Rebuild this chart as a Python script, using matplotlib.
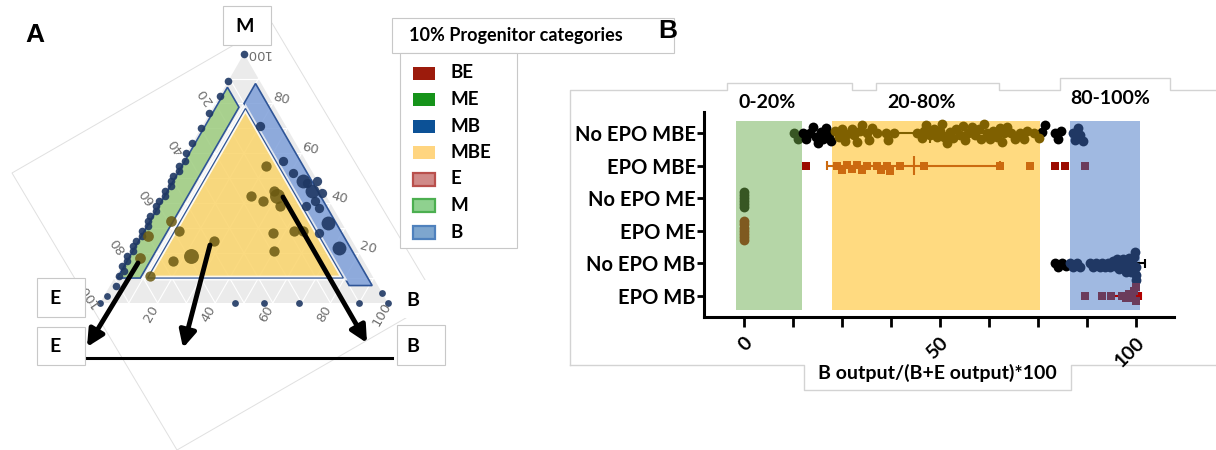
import numpy as np
import matplotlib
matplotlib.use('Agg')
import matplotlib.pyplot as plt
from matplotlib.patches import Polygon, Rectangle

plt.rcParams['font.family'] = ['Lato', 'DejaVu Sans']

# ---------------- panel A : ternary points, (B %, M %), E = 100 - B - M
edge_b = [0, 0, 0, 0, 0, 0, 0, 1, 0, 1, 0, 0, 1, 0, 1, 0, 0, 1, 0, 0, 1, 0, 1, 0, 0, 1, 0, 1, 0, 2, 1, 2]
edge_m = [100, 89, 83, 76, 70, 64, 60, 57, 55, 53, 51, 49, 47, 45, 43, 41, 39, 37, 35, 33, 31, 29, 27, 25, 23, 21, 19, 17, 15, 13, 11, 7]
base_b = [0, 1, 47, 57, 69, 90, 96, 100]
base_m = [0, 3, 0, 0, 0, 0, 4, 0]
side_b = [20, 35, 41, 48, 51, 55, 52, 57, 62, 54]
side_m = [71, 57, 52, 48, 49, 44, 39, 38, 28, 41]
side_big_b = [46, 51, 63, 72]
side_big_m = [49, 45, 32, 22]
mbe_b = [30, 31, 36, 38, 43, 46, 50, 53, 56, 13, 17, 27, 12]
mbe_m = [55, 43, 41, 45, 39, 28, 21, 29, 29, 29, 17, 25, 11]
mbe_big_b = [40, 22]
mbe_big_m = [43, 19]
me_b = [5, 3, 8]
me_m = [18, 27, 33]
tern_ticks = [20, 40, 60, 80, 100]

legend_names = ['BE', 'ME', 'MB', 'MBE', 'E', 'M', 'B']

# ---------------- panel B : B output / (B+E output) * 100
rows = ['No EPO MBE', 'EPO MBE', 'No EPO ME', 'EPO ME', 'No EPO MB', 'EPO MB']
zone_names = ['0-20%', '20-80%', '80-100%']
zone_lo = [-2.0, 22.6, 83.2]
zone_hi = [14.8, 75.5, 101.0]

noepo_mbe_me = [12.9, 13.7]
noepo_mbe_none = [15.0, 15.9, 16.8, 17.6, 18.3, 19.0, 19.6, 20.3, 21.0, 21.7, 22.3,
                  76.2, 76.9, 79.3, 80.1, 81.0]
noepo_mbe_mbe = [23.3, 24.2, 25.0, 25.7, 26.3, 27.5, 28.1, 28.8, 29.6, 30.1, 31.4, 32.0,
                 32.6, 33.9, 36.3, 36.9, 38.2, 44.1, 45.4, 46.0, 46.6, 47.5, 48.4, 49.2,
                 50.1, 50.5, 51.2, 51.8, 52.6, 53.5, 54.2, 55.2, 55.8, 56.5, 57.3, 58.2,
                 59.0, 59.9, 60.5, 61.2, 62.0, 62.9, 63.7, 64.6, 65.3, 65.9, 66.5, 67.2,
                 68.3, 69.3, 70.6, 71.5, 72.3, 74.0, 75.3]
noepo_mbe_mb = [83.9, 84.6, 85.2, 85.9, 86.5]
epo_mbe_be = [15.8, 79.4, 82.0]
epo_mbe_mbe = [23.8, 25.1, 26.3, 27.6, 28.9, 30.1, 31.4, 33.9, 35.1, 36.4, 37.3, 39.9,
               46.0, 65.4, 73.0]
epo_mbe_mb = [87.0]
noepo_me = [0, 0, 0, 0, 0, 0]
epo_me = [0, 0, 0, 0, 0, 0, 0]
noepo_mb_none = [79.4, 80.3, 81.2, 82.2]
noepo_mb_mb = [83.3, 84.1, 85.0, 85.8, 88.4, 89.2, 90.0, 90.8, 91.5, 92.2, 92.9, 93.5,
               94.1, 94.7, 95.2, 95.7, 96.2, 96.7, 97.1, 97.5, 97.9, 98.3, 98.6, 98.9,
               99.2, 99.5, 99.8, 100.0, 100.0, 100.0]
epo_mb_mb = [87.1, 91.3, 93.7, 96.4, 97.6, 98.4, 99.0, 99.5, 100.0, 100.0]
epo_mb_be = [100.4]

err_rows = [0, 1, 4, 5]
err_mean = [47.5, 43.3, 95.5, 97.5]
err_lo = [27.0, 21.2, 88.6, 93.6]
err_hi = [68.0, 65.4, 102.4, 101.4]

W, H = 1216, 450
fig = plt.figure(figsize=(W / 100, H / 100), dpi=100)
ax = fig.add_axes([0, 0, 1, 1])
ax.set_xlim(0, W)
ax.set_ylim(H, 0)
ax.axis('off')

VE, VB, VM = (100, 303), (388, 303), (244, 53.6)


def tern(b, m):
    b = np.asarray(b, float)
    m = np.asarray(m, float)
    e = 1 - b - m
    return (e * VE[0] + b * VB[0] + m * VM[0],
            e * VE[1] + b * VB[1] + m * VM[1])


def tpoly(pts, **kw):
    xs, ys = tern([p[0] for p in pts], [p[1] for p in pts])
    return Polygon(np.column_stack([xs, ys]), closed=True, **kw)


# faint outline of the rotated ternary picture
ax.add_patch(Polygon([(12, 173), (272, 23), (437, 300), (177, 450)], closed=True,
                     fill=False, ec='#E0E0E0', lw=0.7, zorder=0))

# ternary background + grid
ax.add_patch(tpoly([(0, 0), (1, 0), (0, 1)], fc='#EBEBEB', ec='none', zorder=1))
for v in np.arange(0.1, 1.0, 0.1):
    for seg in [((v, 0), (v, 1 - v)), ((0, v), (1 - v, v)), ((1 - v, 0), (0, 1 - v))]:
        xs, ys = tern([seg[0][0], seg[1][0]], [seg[0][1], seg[1][1]])
        ax.plot(xs, ys, color='white', lw=0.8, zorder=2)

edge_col = '#2F5597'
green_band = [(0.01, 0.1), (0.01, 0.865), (0.09, 0.785), (0.09, 0.1)]
blue_band = [(0.91, 0.07), (0.1, 0.88), (0.1, 0.8), (0.83, 0.07)]
yellow_tri = [(0.115, 0.1), (0.795, 0.1), (0.115, 0.78)]
ax.add_patch(tpoly(green_band, fc='#9DCC7E', alpha=0.85, ec='none', zorder=3))
ax.add_patch(tpoly(green_band, fill=False, ec=edge_col, lw=1.2, zorder=3))
ax.add_patch(tpoly(blue_band, fc='#7E9FD9', alpha=0.85, ec='none', zorder=3))
ax.add_patch(tpoly(blue_band, fill=False, ec=edge_col, lw=1.2, zorder=3))
ax.add_patch(tpoly(yellow_tri, fc='#FAD46A', alpha=0.85, ec='white', lw=3.5, zorder=3))
ax.add_patch(tpoly(yellow_tri, fill=False, ec=edge_col, lw=0.9, zorder=3))

navy = '#1F3864'
olive = '#6B5A12'
for bb, mm, s in [(edge_b, edge_m, 30), (base_b, base_m, 24), (side_b, side_m, 45),
                  (side_big_b, side_big_m, 100)]:
    x, y = tern(np.array(bb) / 100, np.array(mm) / 100)
    ax.scatter(x, y, s=s, color=navy, alpha=0.9, lw=0, zorder=5)
for bb, mm, s in [(mbe_b, mbe_m, 55), (mbe_big_b, mbe_big_m, 115), (me_b, me_m, 60)]:
    x, y = tern(np.array(bb) / 100, np.array(mm) / 100)
    ax.scatter(x, y, s=s, color=olive, alpha=0.85, lw=0, zorder=6)

# axis numbers of the ternary
tick_kw = dict(fontsize=9.5, color='#6E6E6E', family='DejaVu Sans', ha='center', va='center', zorder=7)
for v in tern_ticks:
    f = v / 100
    x, y = tern(f, -0.045)
    ax.text(x, y, str(v), rotation=60, **tick_kw)
    x, y = tern(-0.05, 1 - f + 0.03)
    ax.text(x, y, str(v), rotation=125, **tick_kw)
    if v < 100:
        x, y = tern(1 - f + 0.02, f + 0.02)
        ax.text(x, y, str(v), rotation=-15, **tick_kw)
x, y = tern(0.05, 1.0)
ax.text(x, y, '100', rotation=180, **tick_kw)

# arrows and base line
for (x0, y0, x1, y1) in [(138, 263, 87, 347), (210, 245, 183, 348), (283, 197, 367, 343)]:
    ax.annotate('', xy=(x1, y1), xytext=(x0, y0), zorder=8,
                arrowprops=dict(arrowstyle='-|>,head_length=1.0,head_width=0.5',
                                lw=3.5, color='black', shrinkA=0, shrinkB=0))
ax.plot([85, 392], [358, 358], color='black', lw=2.2, zorder=8)

# corner label boxes
box_ec = '#C8C8C8'
ax.add_patch(Rectangle((397, 280), 48, 38, fc='white', ec='none', zorder=4))
for (x0, y0, w, h, lab, tx, ty) in [(223, 6, 48, 39, 'M', 245, 26), (37, 278, 48, 39, 'E', 55, 298),
                                    (37, 327, 48, 38, 'E', 55, 346), (397, 325, 48, 40, 'B', 413, 347)]:
    ax.add_patch(Rectangle((x0, y0), w, h, fc='white', ec=box_ec, lw=0.8, zorder=9))
    ax.text(tx, ty, lab, fontsize=14, fontweight='bold', ha='center', va='center', zorder=10)
ax.text(413, 301, 'B', fontsize=14, fontweight='bold', ha='center', va='center', zorder=10)

# legend
ax.add_patch(Rectangle((392, 18), 282, 35, fc='white', ec=box_ec, lw=0.8, zorder=9))
ax.add_patch(Rectangle((400, 53), 117, 195, fc='white', ec=box_ec, lw=0.8, zorder=9))
ax.text(516, 36, '10% Progenitor categories', fontsize=13, fontweight='bold', ha='center', va='center', zorder=10)
leg_fc = ['#9C1B0C', '#16931A', '#0C5196', '#FFD580', '#D08A88', '#8FD18F', '#7EA6CE']
leg_ec = ['none', 'none', 'none', 'none', '#B9504C', '#4CAF50', '#4F81BD']
for i, name in enumerate(legend_names):
    yc = 73 + i * 26.5
    ax.add_patch(Rectangle((413, yc - 6.5), 22, 13, fc=leg_fc[i], ec=leg_ec[i],
                           lw=1.6 if leg_ec[i] != 'none' else 0, zorder=10))
    ax.text(450, yc, name, fontsize=13.5, fontweight='bold', ha='left', va='center', zorder=10)

ax.text(35, 35, 'A', fontsize=19, fontweight='bold', family='Liberation Sans', ha='center', va='center')
ax.text(668, 31, 'B', fontsize=19, fontweight='bold', family='Liberation Sans', ha='center', va='center',
        zorder=11)

# panel B frame with its pasted label boxes
frame_top = [(570, 365), (570, 90), (727, 90), (727, 83), (852, 83), (852, 90), (876, 90),
             (876, 83), (999, 83), (999, 90), (1060, 90), (1060, 78), (1170, 78), (1170, 90),
             (1216, 90)]
frame_bot = [(570, 365), (804, 365), (804, 390), (1071, 390), (1071, 365), (1216, 365)]
for seg in [frame_top, frame_bot]:
    ax.plot([p[0] for p in seg], [p[1] for p in seg], color='#D3D3D3', lw=1, zorder=1)
for name, xc, yc in zip(zone_names, [767, 921, 1110], [103, 103, 98]):
    ax.text(xc, yc, name, fontsize=14, fontweight='bold', ha='center', va='center', zorder=3)
ax.text(937, 373, 'B output/(B+E output)*100', fontsize=14, fontweight='bold',
        ha='center', va='center', zorder=3)

# ---------------- panel B axes
axB = fig.add_axes([704 / W, (H - 317) / H, 470 / W, 205 / H])
axB.patch.set_alpha(0)
axB.set_xlim(-10.2, 109.8)
axB.set_ylim(5.65, -0.65)

zone_col = ['#B5D6A7', '#FFDA80', '#A0B9E1']
for lo, hi, c in zip(zone_lo, zone_hi, zone_col):
    axB.add_patch(Rectangle((lo, -0.36), hi - lo, 5.79, fc=c, ec='none', zorder=0))


def swarm(xvals, row, d):
    pts = axB.transData.transform(np.column_stack([xvals, np.full(len(xvals), row)]))
    px = pts[:, 0]
    offs = np.zeros(len(px))
    placed = []
    for i in np.argsort(px, kind='stable'):
        cands = [0.0]
        for xj, oj in placed:
            dx = px[i] - xj
            if abs(dx) < d:
                h = np.sqrt(d * d - dx * dx)
                cands += [oj + h, oj - h]
        cands.sort(key=lambda c: (abs(c), c))
        for c in cands:
            if all((px[i] - xj) ** 2 + (c - oj) ** 2 >= d * d - 1e-6 for xj, oj in placed):
                offs[i] = c
                break
        placed.append((px[i], offs[i]))
    back = axB.transData.inverted().transform(np.column_stack([px, pts[:, 1] + offs]))
    return back[:, 1]


err_col = ['#7F6000', '#CC6A10', 'black', '#B00000']
for r, mu, lo, hi, c in zip(err_rows, err_mean, err_lo, err_hi, err_col):
    axB.hlines(r, lo, hi, color=c, lw=1.5, zorder=2)
    axB.vlines([lo, hi], r - 0.13, r + 0.13, color=c, lw=1.5, zorder=2)
    if hi - lo > 20:  # short bars: mean hidden under the points
        axB.vlines(mu, r - 0.3, r + 0.3, color=c, lw=1.5, zorder=2)

row_groups = [
    (0, [(noepo_mbe_me, '#375623', 'o'), (noepo_mbe_none, 'black', 'o'),
         (noepo_mbe_mbe, '#7F6000', 'o'), (noepo_mbe_mb, '#203864', 'o')], 7.0),
    (1, [(epo_mbe_be, '#9C0B00', 's'), (epo_mbe_mbe, '#CC6A10', 's'),
         (epo_mbe_mb, '#6B3B5B', 's')], 6.5),
    (2, [(noepo_me, '#375623', 'o')], 3.0),
    (3, [(epo_me, '#7F5A20', 'o')], 3.2),
    (4, [(noepo_mb_none, 'black', 'o'), (noepo_mb_mb, '#203864', 'o')], 5.0),
    (5, [(epo_mb_be, '#B00000', 's'), (epo_mb_mb, '#6B3B5B', 's')], 5.0),
]
for r, groups, d in row_groups:
    allx = np.concatenate([np.asarray(g[0], float) for g in groups])
    ys = swarm(allx, r, d)
    k = 0
    for vals, c, mk in groups:
        n = len(vals)
        axB.scatter(vals, ys[k:k + n], s=50 if mk == 'o' else 38, marker=mk, color=c,
                    lw=0, zorder=3)
        k += n

for s in ['top', 'right']:
    axB.spines[s].set_visible(False)
for s in ['left', 'bottom']:
    axB.spines[s].set_linewidth(2.2)
axB.set_yticks(range(len(rows)))
axB.set_yticklabels(rows, fontsize=14.5, fontweight='bold')
axB.set_xticks([0, 50, 100])
axB.set_xticks(np.arange(12.5, 100, 12.5), minor=True)
axB.set_xticklabels(['0', '50', '100'], fontsize=14, fontweight='bold', rotation=45,
                    ha='right', va='top', rotation_mode='anchor')
axB.tick_params(axis='y', length=5, width=2, pad=1)
axB.tick_params(axis='x', which='both', length=7, width=2, pad=5)

fig.savefig('out.png', dpi=100)
